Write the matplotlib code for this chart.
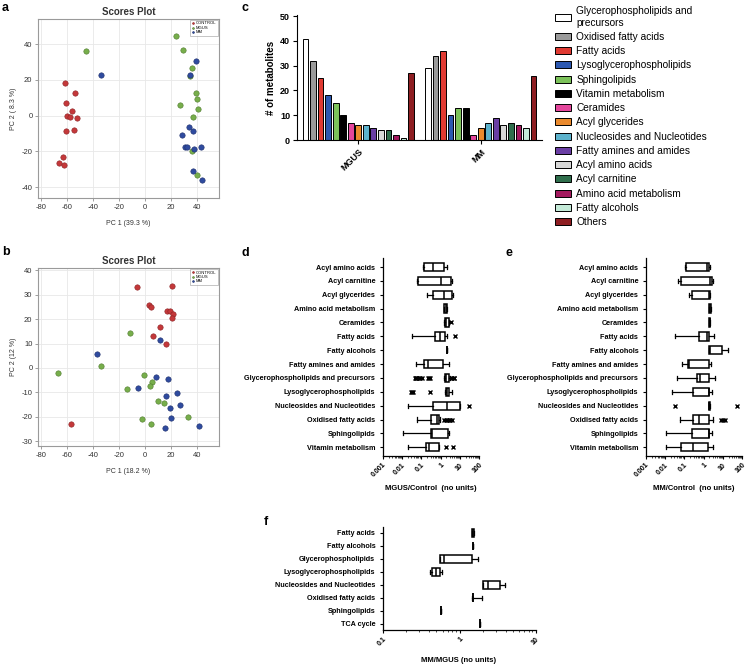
import numpy as np
import matplotlib
matplotlib.use('Agg')
import matplotlib.pyplot as plt
from matplotlib.ticker import FixedLocator, FixedFormatter, LogLocator, NullFormatter

plt.rcParams['font.family'] = ['Liberation Sans', 'DejaVu Sans']
plt.rcParams['axes.unicode_minus'] = False

# ---------------- data: panel a (PCA scores) ----------------
a_control_x = [-61.5, -53.7, -60.3, -55.7, -60.0, -57.5, -51.9, -60.3, -54.7, -62.8, -65.6, -61.8]
a_control_y = [18.0, 12.8, 7.3, 2.4, -0.4, -0.9, -1.1, -8.7, -7.8, -23.0, -26.4, -27.3]
a_mgus_x = [-45.0, 24.3, 29.1, 36.0, 34.9, 39.2, 40.3, 41.0, 27.1, 37.0, 36.2, 40.0]
a_mgus_y = [35.9, 44.3, 36.8, 26.4, 22.1, 12.7, 9.3, 3.5, 6.0, -0.7, -19.9, -33.1]
a_mm_x = [-33.7, 39.2, 34.4, 33.9, 28.4, 37.0, 31.1, 32.7, 37.5, 43.0, 37.0, 43.8]
a_mm_y = [22.7, 30.3, 22.7, -6.5, -10.8, -8.7, -17.7, -17.5, -18.6, -17.3, -31.1, -35.7]

# ---------------- data: panel b (PCA scores) ----------------
b_control_x = [-5.6, 21.0, 3.3, 4.6, 17.4, 19.2, 22.0, 20.8, 12.0, 6.4, 16.2, -56.4]
b_control_y = [33.1, 33.5, 25.9, 25.1, 23.3, 23.5, 22.3, 20.4, 16.7, 13.0, 9.8, -23.1]
b_mgus_x = [-11.0, -33.3, -66.7, -0.8, 5.4, 3.8, -13.8, 10.5, 14.9, -2.0, 4.9, 33.0]
b_mgus_y = [14.5, 0.7, -2.2, -2.8, -5.7, -7.2, -8.5, -13.6, -14.5, -20.8, -22.8, -20.1]
b_mm_x = [-36.4, 11.8, 8.7, 17.7, -5.4, 16.4, 24.9, 19.0, 27.2, 20.0, 15.6, 42.0]
b_mm_y = [5.8, 11.5, -3.5, -4.5, -8.4, -11.3, -10.4, -16.6, -15.3, -20.6, -24.8, -24.0]

# ---------------- data: panel c (metabolite counts) ----------------
c_groups = ['MGUS', 'MM']
c_classes = ['Glycerophospholipids and\nprecursors', 'Oxidised fatty acids', 'Fatty acids',
             'Lysoglycerophospholipids', 'Sphingolipids', 'Vitamin metabolism', 'Ceramides',
             'Acyl glycerides', 'Nucleosides and Nucleotides', 'Fatty amines and amides',
             'Acyl amino acids', 'Acyl carnitine', 'Amino acid metabolism', 'Fatty alcohols', 'Others']
c_mgus = [41, 32, 25, 18, 15, 10, 7, 6, 6, 5, 4, 4, 2, 1, 27]
c_mm = [29, 34, 36, 10, 13, 13, 2, 5, 7, 9, 6, 7, 6, 5, 26]
c_colors = ['#ffffff', '#9a9a9a', '#e03a32', '#2c58b0', '#7cc25a', '#000000', '#e4469c',
            '#ea8a2e', '#5cb2cc', '#6a3ea4', '#d8d8d8', '#2f6e4c', '#a3195e', '#c4ead8', '#8e1e22']

# ---------------- data: panel d (MGUS/Control) ----------------
d_labels = ['Acyl amino acids', 'Acyl carnitine', 'Acyl glycerides', 'Amino acid metabolism',
            'Ceramides', 'Fatty acids', 'Fatty alcohols', 'Fatty amines and amides',
            'Glycerophospholipids and precursors', 'Lysoglycerophospholipids',
            'Nucleosides and Nucleotides', 'Oxidised fatty acids', 'Sphingolipids',
            'Vitamin metabolism']
d_whislo = [0.12, 0.058, 0.19, 1.55, 1.55, 0.031, 2.07, 0.051, 1.55, 1.75, 0.02, 0.058, 0.0105, 0.02]
d_q1 = [0.13, 0.065, 0.42, 1.55, 1.62, 0.49, 2.07, 0.129, 1.62, 1.82, 0.39, 0.32, 0.32, 0.17]
d_med = [0.42, 1.05, 1.57, 1.8, 2.0, 0.93, 2.07, 0.234, 2.0, 2.2, 2.07, 0.63, 0.34, 0.26]
d_q3 = [1.57, 3.33, 4.07, 2.05, 2.8, 1.62, 2.07, 1.39, 2.75, 2.82, 10.2, 0.83, 2.5, 0.83]
d_whishi = [2.07, 3.9, 4.6, 2.05, 2.9, 2.24, 2.07, 2.63, 3.0, 3.8, 10.2, 0.9, 2.85, 0.86]
d_fliers = [[], [], [], [], [3.6], [5.6], [], [],
            [0.045, 0.05, 0.052, 0.06, 0.071, 0.089, 0.105, 0.224, 0.25, 0.27, 3.3, 4.0, 4.8, 5.2],
            [0.028, 0.032, 0.038, 0.28], [31.0], [1.5, 1.9, 2.2, 2.6, 3.1, 3.9], [], [1.84, 4.6]]

# ---------------- data: panel e (MM/Control) ----------------
e_labels = d_labels
e_whislo = [0.113, 0.045, 0.175, 2.0, 2.0, 0.031, 2.0, 0.075, 0.043, 0.022, 1.9, 0.059, 0.0106, 0.0106]
e_q1 = [0.122, 0.065, 0.24, 2.0, 2.0, 0.61, 2.0, 0.16, 0.48, 0.27, 1.9, 0.27, 0.24, 0.07]
e_med = [1.58, 2.18, 1.94, 2.2, 2.1, 1.46, 2.05, 0.18, 0.66, 1.95, 2.0, 0.61, 1.9, 0.295]
e_q3 = [2.01, 2.88, 2.18, 2.4, 2.2, 2.0, 9.4, 2.0, 2.0, 2.0, 2.2, 2.0, 2.0, 1.79]
e_whishi = [2.18, 3.0, 2.2, 2.4, 2.2, 3.5, 17.8, 2.56, 4.0, 2.67, 2.2, 3.26, 2.67, 3.0]
e_fliers = [[], [], [], [], [], [], [], [], [], [], [0.031, 56.0], [7.9, 10.0, 13.2], [], []]

# ---------------- data: panel f (MM/MGUS) ----------------
f_labels = ['Fatty acids', 'Fatty alcohols', 'Glycerophospholipids', 'Lysoglycerophospholipids',
            'Nucleosides and Nucleotides', 'Oxidised fatty acids', 'Sphingolipids', 'TCA cycle']
f_whislo = [1.45, 1.52, 0.55, 0.41, 2.0, 1.45, 0.57, 1.86]
f_q1 = [1.45, 1.52, 0.55, 0.44, 2.0, 1.48, 0.57, 1.86]
f_med = [1.5, 1.52, 0.62, 0.50, 2.39, 1.5, 0.57, 1.86]
f_q3 = [1.55, 1.52, 1.45, 0.55, 3.4, 1.52, 0.57, 1.86]
f_whishi = [1.55, 1.52, 1.72, 0.59, 3.9, 1.95, 0.57, 1.86]
f_fliers = [[], [], [], [], [], [], [], []]

# ---------------- figure ----------------
W, H = 746, 665
fig = plt.figure(figsize=(W / 100, H / 100), dpi=100)


def ax_px(x0, y0, x1, y1):
    return fig.add_axes([x0 / W, 1 - y1 / H, (x1 - x0) / W, (y1 - y0) / H])


RED, GREEN, BLUE = '#c4383a', '#77ae4b', '#2f4b9f'


def scores(ax, cx, cy, gx, gy, mx, my, xlabel, ylabel, yticks, ylim):
    ax.set_axisbelow(True)
    ax.grid(True, color='#e8e8e8', lw=0.6)
    kw = dict(s=15, linewidths=0.4)
    ax.scatter(cx, cy, color=RED, edgecolors='#8a2224', label='CONTROL', **kw)
    ax.scatter(gx, gy, color=GREEN, edgecolors='#4f7a2f', label='MGUS', **kw)
    ax.scatter(mx, my, color=BLUE, edgecolors='#1d2f6a', label='MM', **kw)
    ax.set_xlim(-82, 57)
    ax.set_ylim(*ylim)
    ax.set_xticks([-80, -60, -40, -20, 0, 20, 40])
    ax.set_yticks(yticks)
    for s in ax.spines.values():
        s.set_color('#9a9a9a')
        s.set_linewidth(0.8)
    ax.tick_params(length=2, width=0.5, color='#777777', labelsize=5.5, pad=2, labelcolor='#333333')
    ax.set_title('Scores Plot', fontsize=7, fontweight='bold', pad=3, color='#333333')
    ax.set_xlabel(xlabel, fontsize=5, labelpad=7, color='#333333')
    ax.set_ylabel(ylabel, fontsize=5, labelpad=3, color='#333333')
    leg = ax.legend(loc='upper right', fontsize=3, frameon=True, fancybox=False, markerscale=0.35,
                    handletextpad=0.2, borderpad=0.3, labelspacing=0.1, handlelength=0.8,
                    borderaxespad=0.3)
    leg.get_frame().set_edgecolor('#999999')
    leg.get_frame().set_linewidth(0.5)


ax_a = ax_px(38, 19, 219, 198)
scores(ax_a, a_control_x, a_control_y, a_mgus_x, a_mgus_y, a_mm_x, a_mm_y,
       'PC 1 (39.3 %)', 'PC 2 ( 8.3 %)', [-40, -20, 0, 20, 40], (-46, 54))
ax_b = ax_px(38, 268, 219, 446)
scores(ax_b, b_control_x, b_control_y, b_mgus_x, b_mgus_y, b_mm_x, b_mm_y,
       'PC 1 (18.2 %)', 'PC 2 (12 %)', [-30, -20, -10, 0, 10, 20, 30, 40], (-32, 41))

# ---------------- panel c ----------------
ax_c = ax_px(297, 15, 542, 140)
step, bw = 0.0615, 0.047
gpos = np.arange(len(c_groups))
handles = []
for i, cls in enumerate(c_classes):
    bars = ax_c.bar(gpos + (i - 7) * step, [c_mgus[i], c_mm[i]], width=bw,
                    color=c_colors[i], edgecolor='black', linewidth=0.7, label=cls)
    handles.append(bars)
ax_c.set_xlim(-0.5, 1.5)
ax_c.set_ylim(0, 50.5)
ax_c.set_yticks([0, 10, 20, 30, 40, 50])
ax_c.set_xticks(gpos)
ax_c.set_xticklabels(c_groups, rotation=45, ha='right', rotation_mode='anchor',
                     fontsize=6.5, fontweight='bold')
for lab in ax_c.get_yticklabels():
    lab.set_fontweight('bold')
ax_c.tick_params(axis='y', labelsize=6.5, length=3, width=0.8, pad=2)
ax_c.tick_params(axis='x', length=3, width=0.8, pad=2)
ax_c.spines['top'].set_visible(False)
ax_c.spines['right'].set_visible(False)
for s in ('left', 'bottom'):
    ax_c.spines[s].set_linewidth(0.8)
ax_c.set_ylabel('# of metabolites', fontsize=7, fontweight='bold', labelpad=3)
fig.legend(handles=handles, labels=c_classes, loc='upper left',
           bbox_to_anchor=(555 / W, 1 - 6 / H), frameon=False, fontsize=7.3,
           handlelength=1.6, handleheight=0.7, handletextpad=0.5, labelspacing=0.42,
           borderaxespad=0, borderpad=0)


# ---------------- box panels ----------------
def boxes(ax, labels, wlo, q1, med, q3, whi, fliers, width, xlim, xticks, xticklabels, ylim):
    stats = []
    for i in range(len(labels)):
        stats.append(dict(whislo=wlo[i], q1=q1[i], med=med[i], q3=q3[i], whishi=whi[i],
                          fliers=fliers[i], label=labels[i]))
    ax.set_xscale('log')
    ax.bxp(stats, positions=list(range(len(labels))), widths=width, orientation='horizontal',
           patch_artist=True, showfliers=True, capwidths=0.3,
           boxprops=dict(facecolor='white', edgecolor='black', linewidth=1.1),
           medianprops=dict(color='black', linewidth=1.1),
           whiskerprops=dict(color='black', linewidth=0.9),
           capprops=dict(color='black', linewidth=0.9),
           flierprops=dict(marker='x', markersize=3, markeredgecolor='black',
                           markeredgewidth=1.0, linestyle='none'))
    ax.set_xlim(*xlim)
    ax.set_ylim(*ylim)
    ax.xaxis.set_major_locator(FixedLocator(xticks))
    ax.xaxis.set_major_formatter(FixedFormatter(xticklabels))
    ax.xaxis.set_minor_locator(LogLocator(base=10, subs=np.arange(2, 10), numticks=20))
    ax.xaxis.set_minor_formatter(NullFormatter())
    for lab in ax.get_xticklabels():
        lab.set_rotation(45)
        lab.set_ha('right')
        lab.set_rotation_mode('anchor')
        lab.set_fontweight('bold')
        lab.set_fontsize(5)
    ax.set_yticks(list(range(len(labels))))
    ax.set_yticklabels(labels, fontsize=5.2, fontweight='bold')
    ax.tick_params(axis='y', length=2.5, width=0.8, pad=3)
    ax.tick_params(axis='x', which='major', length=2.5, width=0.8, pad=1.5)
    ax.tick_params(axis='x', which='minor', length=1.3, width=0.5)
    ax.spines['top'].set_visible(False)
    ax.spines['right'].set_visible(False)
    for s in ('left', 'bottom'):
        ax.spines[s].set_linewidth(0.9)


dx_ticks = [0.001, 0.01, 0.1, 1, 10, 100]
dx_labels = ['0.001', '0.01', '0.1', '1', '10', '100']
ax_d = ax_px(383, 258, 479, 456)
boxes(ax_d, d_labels, d_whislo, d_q1, d_med, d_q3, d_whishi, d_fliers, 0.6,
      (0.001, 100), dx_ticks, dx_labels, (13.63, -0.65))
ax_e = ax_px(646, 258, 742, 456)
boxes(ax_e, e_labels, e_whislo, e_q1, e_med, e_q3, e_whishi, e_fliers, 0.6,
      (0.001, 100), dx_ticks, dx_labels, (13.63, -0.65))
ax_f = ax_px(383, 527, 536, 630)
boxes(ax_f, f_labels, f_whislo, f_q1, f_med, f_q3, f_whishi, f_fliers, 0.67,
      (0.1, 10), [0.1, 1, 10], ['0.1', '1', '10'], (7.48, -0.46))

fig.text(431 / W, 1 - 488 / H, 'MGUS/Control  (no units)', fontsize=5.5, fontweight='bold',
         ha='center', va='center')
fig.text(694 / W, 1 - 488 / H, 'MM/Control  (no units)', fontsize=5.5, fontweight='bold',
         ha='center', va='center')
fig.text(459 / W, 1 - 660 / H, 'MM/MGUS (no units)', fontsize=5.5, fontweight='bold',
         ha='center', va='center')

# panel letters
for letter, x, y in [('a', 2, 8), ('b', 2, 252), ('c', 241, 8), ('d', 241, 253),
                     ('e', 505, 253), ('f', 264, 522)]:
    fig.text(x / W, 1 - y / H, letter, fontsize=9, fontweight='bold', ha='left', va='center')

fig.savefig('out.png', dpi=100)
